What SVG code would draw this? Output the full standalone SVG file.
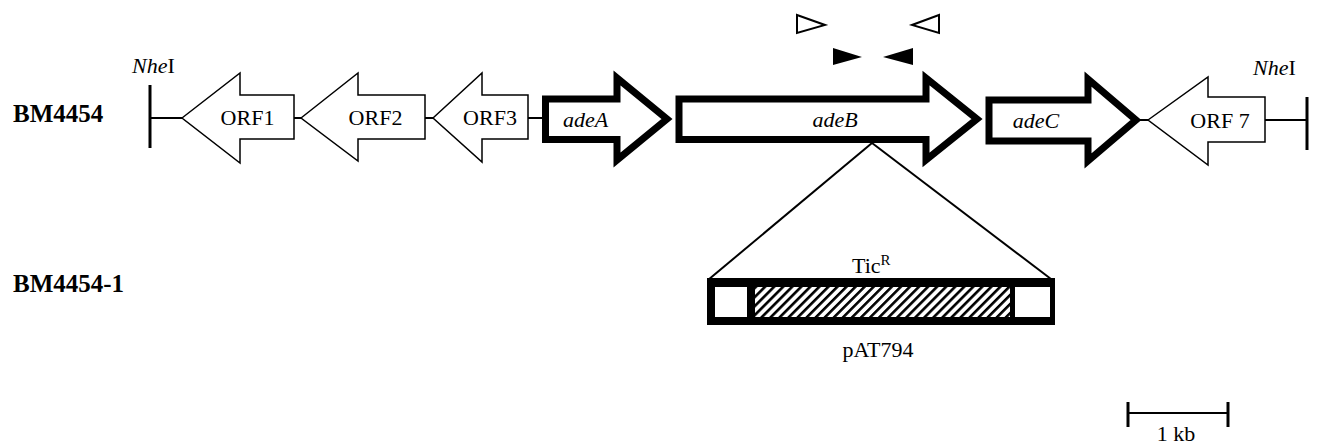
<svg xmlns="http://www.w3.org/2000/svg" width="1331" height="444" viewBox="0 0 1331 444">
<style>
text{font-family:"Liberation Serif","Times New Roman",serif;font-size:22px;fill:#000}
.lbl{font-weight:bold;font-size:25px}
.it{font-style:italic}
.orf{fill:#fff;stroke:#000;stroke-width:1.5;stroke-linejoin:miter}
.ade{fill:#fff;stroke:#000;stroke-width:7;stroke-linejoin:miter;stroke-miterlimit:10}
.ln{stroke:#000;stroke-width:2;fill:none}
.bar{stroke:#000;stroke-width:3;fill:none}
.po{fill:#fff;stroke:#000;stroke-width:2}
.pf{fill:#000}
</style>
<defs>
<pattern id="hatch" patternUnits="userSpaceOnUse" width="6.4" height="10" patternTransform="rotate(45)">
<rect x="0" y="0" width="6.4" height="10" fill="#fff"/>
<rect x="0" y="0" width="2.6" height="10" fill="#000"/>
</pattern>
</defs>
<rect width="1331" height="444" fill="#fff"/>

<text class="lbl" x="13" y="122">BM4454</text>
<text class="lbl" x="13" y="292">BM4454-1</text>

<g id="connectors">
<line class="ln" x1="150" y1="118" x2="182" y2="118"/>
<line class="ln" x1="294" y1="118" x2="301" y2="118"/>
<line class="ln" x1="425" y1="118" x2="433" y2="118"/>
<line class="ln" x1="528" y1="118" x2="543" y2="118"/>
<line class="ln" x1="1140" y1="120" x2="1148" y2="120"/>
<line class="ln" x1="1265" y1="120" x2="1307" y2="120"/>
<line class="ln" x1="872" y1="143" x2="708" y2="280"/>
<line class="ln" x1="872" y1="143" x2="1051" y2="279"/>
</g>

<g id="nhe-left">
<line class="bar" x1="150" y1="85" x2="150" y2="148"/>
<text x="132" y="73"><tspan class="it">Nhe</tspan>I</text>
</g>
<g id="nhe-right">
<line class="bar" x1="1307" y1="97" x2="1307" y2="150"/>
<text x="1253" y="75"><tspan class="it">Nhe</tspan>I</text>
</g>

<g id="orf1">
<polygon class="orf" points="182,118 240,73 240,95 294,95 294,139 240,139 240,163"/>
<text x="247.5" y="125" text-anchor="middle">ORF1</text>
</g>
<g id="orf2">
<polygon class="orf" points="301,118 358,73 358,95 425,95 425,139 358,139 358,161"/>
<text x="375.5" y="125" text-anchor="middle">ORF2</text>
</g>
<g id="orf3">
<polygon class="orf" points="433,118 482,73 482,95 528,95 528,139 482,139 482,162"/>
<text x="490" y="125" text-anchor="middle">ORF3</text>
</g>

<g id="adeA">
<polygon class="ade" points="545.5,99 617,99 617,78 667,119 617,160 617,139.5 545.5,139.5"/>
<text class="it" x="585.5" y="127" text-anchor="middle">adeA</text>
</g>
<g id="adeB">
<polygon class="ade" points="679,99 926,99 926,78 977,119 926,160 926,139.5 679,139.5"/>
<text class="it" x="835" y="127" text-anchor="middle">adeB</text>
</g>
<g id="adeC">
<polygon class="ade" points="989,100 1088,100 1088,79 1136,120 1088,161 1088,141 989,141"/>
<text class="it" x="1036" y="128" text-anchor="middle">adeC</text>
</g>

<g id="orf7">
<polygon class="orf" points="1148,120 1208,77 1208,97 1265,97 1265,142 1208,142 1208,165"/>
<text x="1220" y="128" text-anchor="middle">ORF 7</text>
</g>

<g id="primers">
<polygon class="po" points="797,15 825,25 797,33"/>
<polygon class="po" points="939,15 912,25 939,33"/>
<polygon class="pf" points="833,48 862,57 833,65"/>
<polygon class="pf" points="913,48 883,57 913,65"/>
</g>

<g id="pAT794">
<rect x="707" y="278" width="348" height="47" fill="#000"/>
<rect x="715" y="287" width="32" height="30" fill="#fff"/>
<rect x="755" y="287" width="255" height="30" fill="url(#hatch)"/>
<rect x="1015" y="287" width="35" height="30" fill="#fff"/>
<text x="852" y="273">Tic<tspan font-size="15" dy="-8">R</tspan></text>
<text x="878" y="357" text-anchor="middle">pAT794</text>
</g>

<g id="scale">
<line class="ln" x1="1128" y1="413" x2="1228" y2="413"/>
<line class="bar" x1="1128" y1="402" x2="1128" y2="427"/>
<line class="bar" x1="1228" y1="402" x2="1228" y2="427"/>
<text x="1176" y="441" text-anchor="middle">1 kb</text>
</g>
</svg>
